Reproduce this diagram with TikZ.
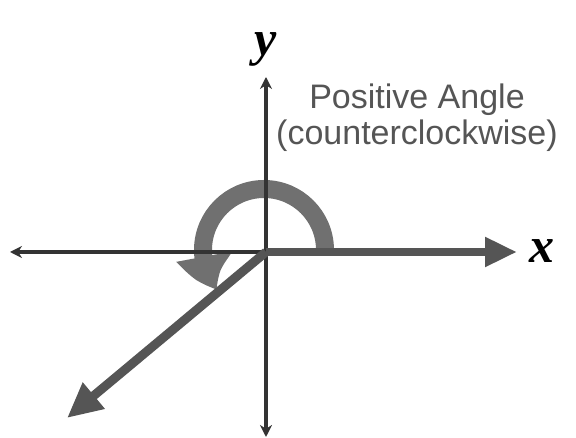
\documentclass[tikz,border=0pt]{standalone}
\usepackage{fontspec}
\setmainfont{Liberation Serif}
\newfontfamily\labelfont{Liberation Sans}
\usetikzlibrary{arrows.meta,bending}
\definecolor{axisgray}{HTML}{333333}
\definecolor{raygray}{HTML}{555555}
\definecolor{turngray}{HTML}{707070}
\definecolor{textgray}{HTML}{555555}

\begin{document}
\begin{tikzpicture}[
  x=1pt, y=1pt,
  axis/.style={{Stealth[length=12pt,width=12pt]}-{Stealth[length=12pt,width=12pt]}, line width=3.5pt, draw=axisgray},
  halfaxis/.style={-{Stealth[length=12pt,width=12pt]}, line width=3.5pt, draw=axisgray},
  ray/.style={-{Triangle[length=32pt,width=28pt]}, line width=8pt, draw=raygray},
  turn/.style={-{Triangle[length=36pt,width=54pt,bend]}, line width=18pt, draw=turngray},
  axislabel/.style={font=\fontsize{50}{50}\selectfont\bfseries\itshape, text=black, inner sep=0pt},
  caption/.style={font=\labelfont\fontsize{34}{36}\selectfont, text=textgray, align=center, inner sep=0pt}
]
\useasboundingbox (-266,-186) rectangle (310,252);
\coordinate (O) at (0,0);
\coordinate (xpos) at (251,0);
\coordinate (xneg) at (-256,0);
\coordinate (ypos) at (0,175);
\coordinate (yneg) at (0,-185);
\coordinate (term) at (-199,-166);

% the turning arrow sits under the axes
\draw[turn] (59,2) arc[start angle=0, end angle=220, radius=61];

\draw[halfaxis] (O) -- (xneg);
\draw[axis] (yneg) -- (ypos);
\draw[ray] (O) -- (xpos);
\draw[ray, line width=9pt, -{Triangle[length=35pt,width=32pt]}] (O) -- (term);

\node[axislabel, anchor=base] (ylab) at (0,196) {y};
\node[axislabel, anchor=base] (xlab) at (276,-11) {x};
\node[caption] (angle) at (151,134) {Positive Angle\\(counterclockwise)};
\end{tikzpicture}
\end{document}
